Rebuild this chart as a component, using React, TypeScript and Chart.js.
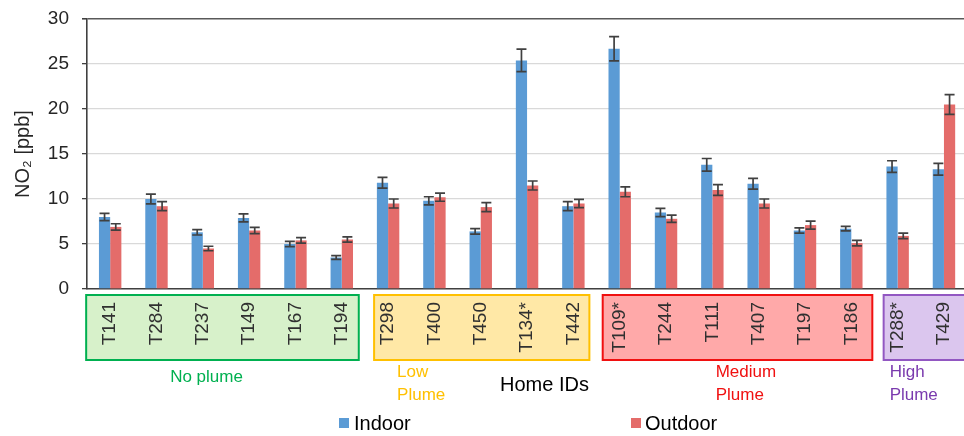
import React, { useEffect, useRef } from 'react';
import { Chart, registerables } from 'chart.js';

Chart.register(...registerables);

const homeIds = ['T141', 'T284', 'T237', 'T149', 'T167', 'T194', 'T298', 'T400', 'T450', 'T134*', 'T442', 'T109*', 'T244', 'T111', 'T407', 'T197', 'T186', 'T288*', 'T429'];
const indoor = [8.0, 10.0, 6.3, 7.9, 5.0, 3.5, 11.8, 9.8, 6.4, 25.4, 9.2, 26.7, 8.5, 13.8, 11.7, 6.5, 6.7, 13.6, 13.3];
const indoorErr = [0.4, 0.55, 0.3, 0.45, 0.3, 0.2, 0.6, 0.45, 0.3, 1.25, 0.5, 1.35, 0.45, 0.7, 0.6, 0.3, 0.25, 0.65, 0.65];
const outdoor = [6.9, 9.2, 4.5, 6.5, 5.4, 5.5, 9.5, 10.2, 9.1, 11.5, 9.5, 10.8, 7.8, 11.0, 9.5, 7.1, 5.1, 5.9, 20.5];
const outdoorErr = [0.35, 0.5, 0.25, 0.35, 0.3, 0.3, 0.5, 0.45, 0.5, 0.5, 0.45, 0.55, 0.4, 0.6, 0.5, 0.45, 0.3, 0.3, 1.1];
const yMin = 0;
const yMax = 30;
const yStep = 5;
const groupNames = [['No plume'], ['Low', 'Plume'], ['Medium', 'Plume'], ['High', 'Plume']];
const groupFirst = [0, 6, 11, 17];
const groupLast = [5, 10, 16, 18];
const seriesNames = ['Indoor', 'Outdoor'];
const xTitle = 'Home IDs';
const yTitle = 'NO\u2082 [ppb]';

const FONT = '"Liberation Sans", Arial, sans-serif';
const BLUE = '#5B9BD5';
const RED = '#E46C6A';
const groupStyle = [
  { stroke: '#00B050', fill: '#D7F1CA', text: '#00B050', dl: -24, dr: 17, tx: 84 },
  { stroke: '#FFC000', fill: '#FFE8A6', text: '#FFC000', dl: -14, dr: 16, tx: 23 },
  { stroke: '#F01010', fill: '#FFA9A9', text: '#F01010', dl: -17, dr: 21, tx: 113 },
  { stroke: '#9257C2', fill: '#DBC6EE', text: '#7A3AAE', dl: -14, dr: 80, tx: 6 },
];

const decorPlugin = {
  id: 'decor',
  beforeDraw(chart: any) {
    const ctx = chart.ctx;
    const x = chart.scales.x;
    ctx.save();
    ctx.fillStyle = '#ffffff';
    ctx.fillRect(0, 0, chart.width, chart.height);
    const top = 295;
    const bottom = 360;
    for (let g = 0; g < groupFirst.length; g++) {
      const st = groupStyle[g];
      const l = x.getPixelForValue(groupFirst[g]) + st.dl;
      const r = x.getPixelForValue(groupLast[g]) + st.dr;
      ctx.fillStyle = st.fill;
      ctx.fillRect(l, top, r - l, bottom - top);
      ctx.strokeStyle = st.stroke;
      ctx.lineWidth = 2;
      ctx.strokeRect(l, top, r - l, bottom - top);
      ctx.fillStyle = st.text;
      ctx.font = `17px ${FONT}`;
      ctx.textAlign = 'left';
      ctx.textBaseline = 'middle';
      const lines = groupNames[g];
      if (lines.length === 1) {
        ctx.fillText(lines[0], l + st.tx, 377);
      } else {
        lines.forEach((t, i) => ctx.fillText(t, l + st.tx, 372 + i * 23.5));
      }
    }
    ctx.restore();
  },
  afterDraw(chart: any) {
    const ctx = chart.ctx;
    ctx.save();
    ctx.fillStyle = '#000000';
    ctx.font = `20px ${FONT}`;
    ctx.textAlign = 'left';
    ctx.textBaseline = 'middle';
    ctx.fillText(xTitle, 500, 385);
    const items = [
      { c: BLUE, sx: 339, tx: 354 },
      { c: RED, sx: 631, tx: 645 },
    ];
    items.forEach((it, i) => {
      ctx.fillStyle = it.c;
      ctx.fillRect(it.sx, 418, 10, 10);
      ctx.fillStyle = '#000000';
      ctx.fillText(seriesNames[i], it.tx, 424);
    });
    ctx.restore();
  },
  afterDatasetsDraw(chart: any) {
    const ctx = chart.ctx;
    const y = chart.scales.y;
    const errs = [indoorErr, outdoorErr];
    const vals = [indoor, outdoor];
    ctx.save();
    ctx.strokeStyle = '#404040';
    ctx.lineWidth = 1.7;
    for (let d = 0; d < 2; d++) {
      const meta = chart.getDatasetMeta(d);
      meta.data.forEach((el: any, i: number) => {
        const v = vals[d][i];
        const e = errs[d][i];
        const yt = y.getPixelForValue(v + e);
        const yb = y.getPixelForValue(v - e);
        const cx = el.x;
        const hw = 5;
        ctx.beginPath();
        ctx.moveTo(cx, yt);
        ctx.lineTo(cx, yb);
        ctx.moveTo(cx - hw, yt);
        ctx.lineTo(cx + hw, yt);
        ctx.moveTo(cx - hw, yb);
        ctx.lineTo(cx + hw, yb);
        ctx.stroke();
      });
    }
    ctx.restore();
  },
};

export default function App() {
  const ref = useRef<HTMLCanvasElement | null>(null);
  useEffect(() => {
    if (!ref.current) return;
    const chart = new Chart(ref.current, {
      type: 'bar',
      data: {
        labels: homeIds,
        datasets: [
          { label: seriesNames[0], data: indoor, backgroundColor: BLUE, borderWidth: 0 },
          { label: seriesNames[1], data: outdoor, backgroundColor: RED, borderWidth: 0 },
        ],
      },
      plugins: [decorPlugin],
      options: {
        animation: false,
        responsive: false,
        devicePixelRatio: 1,
        layout: { padding: { left: 0, top: 19, right: 9, bottom: 0 } },
        plugins: { legend: { display: false }, tooltip: { enabled: false } },
        datasets: { bar: { barPercentage: 1, categoryPercentage: 0.484 } },
        scales: {
          x: {
            grid: { display: false, drawTicks: false },
            border: { display: true, color: '#404040', width: 1.6 },
            ticks: {
              autoSkip: false,
              minRotation: 90,
              maxRotation: 90,
              padding: 13,
              color: '#303030',
              font: { family: FONT, size: 19 },
            },
            afterFit(scale: any) {
              scale.height = 147;
            },
          },
          y: {
            min: yMin,
            max: yMax,
            ticks: {
              stepSize: yStep,
              padding: 13,
              color: '#262626',
              font: { family: FONT, size: 19, lineHeight: 0.5 },
            },
            grid: {
              color: (c: any) => (c.tick && c.tick.value === yMax ? '#595959' : '#D9D9D9'),
              lineWidth: (c: any) => (c.tick && c.tick.value === yMax ? 1.6 : 1.3),
              tickColor: '#404040',
              tickLength: 5,
            },
            border: { display: true, color: '#404040', width: 1.6 },
            title: {
              display: true,
              text: yTitle,
              color: '#262626',
              font: { family: FONT, size: 20 },
              padding: { top: 11, bottom: 0 },
            },
            afterFit(scale: any) {
              scale.width = 87;
            },
          },
        },
      },
    } as any);
    return () => chart.destroy();
  }, []);
  return (
    <div style={{ position: 'fixed', left: 0, top: 0, width: 964, height: 436, overflow: 'hidden', background: '#fff' }}>
      <canvas ref={ref} width={980} height={436} style={{ width: 980, height: 436, display: 'block' }} />
    </div>
  );
}
